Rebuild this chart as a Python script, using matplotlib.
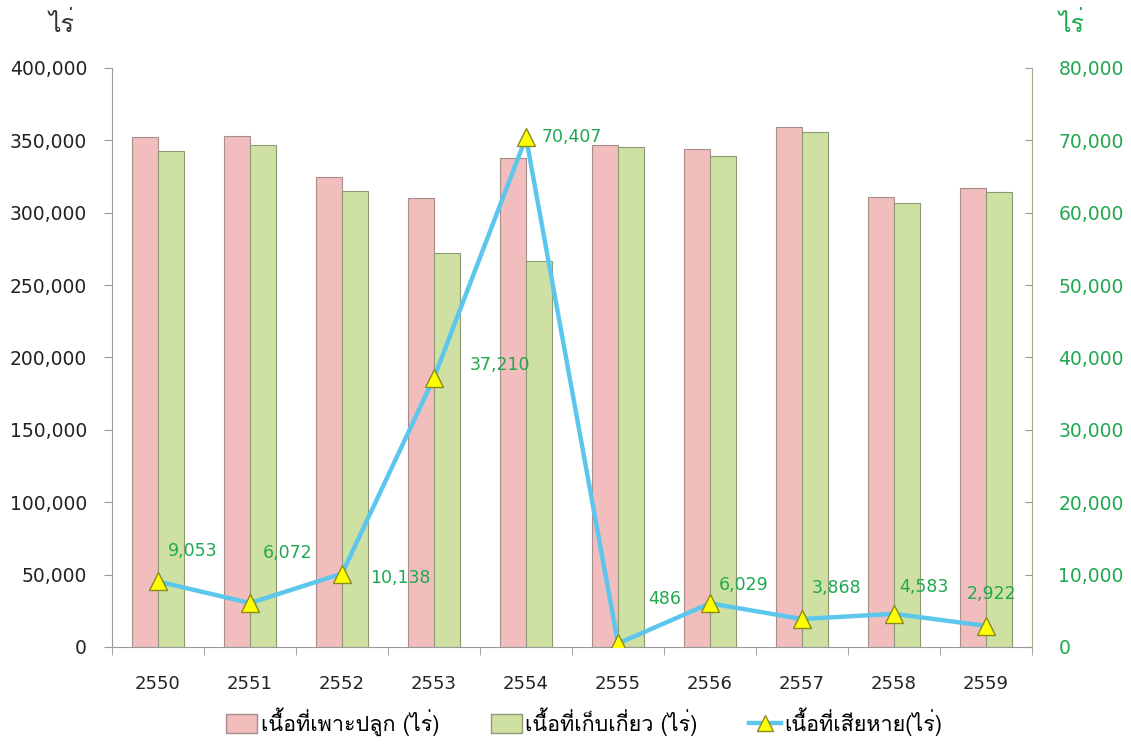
import matplotlib
matplotlib.use("Agg")
import matplotlib.pyplot as plt
from matplotlib import font_manager
from matplotlib.lines import Line2D
from matplotlib.patches import Patch
from matplotlib.ticker import FuncFormatter, MultipleLocator
import numpy as np

# ---- data ----
years = ["2550", "2551", "2552", "2553", "2554", "2555", "2556", "2557", "2558", "2559"]
planted = [352000, 353000, 325000, 310000, 337500, 346500, 344000, 359000, 311000, 317000]
harvested = [343000, 347000, 315000, 272500, 267000, 345500, 339000, 355500, 307000, 314500]
damaged = [9053, 6072, 10138, 37210, 70407, 486, 6029, 3868, 4583, 2922]
series_names = ["เนื้อที่เพาะปลูก (ไร่)", "เนื้อที่เก็บเกี่ยว (ไร่)", "เนื้อที่เสียหาย(ไร่)"]
unit_label = "ไร่"

# ---- find a font with Thai glyphs ----
thai_family = None
try:
    from fontTools.ttLib import TTFont
    for fe in font_manager.fontManager.ttflist:
        try:
            tt = TTFont(fe.fname, fontNumber=0, lazy=True)
            cmap = tt.getBestCmap()
            if cmap and 0x0E44 in cmap and 0x0E23 in cmap:
                thai_family = fe.name
                break
        except Exception:
            continue
except Exception:
    pass
thai_fam = [thai_family, "DejaVu Sans"] if thai_family else ["DejaVu Sans"]
plt.rcParams["font.family"] = ["DejaVu Sans"] + ([thai_family] if thai_family else [])

pink = "#F2BDBD"
pink_edge = "#A88C8C"
green = "#CFE0A3"
green_edge = "#8E9A74"
line_col = "#5CC6EC"
txt_green = "#1FA84F"

fig = plt.figure(figsize=(11.31, 7.44), dpi=100)
ax = fig.add_axes([112 / 1131, 1 - 647 / 744, (1032 - 112) / 1131, (647 - 68) / 744])
x = np.arange(len(years))
w = 0.28
ax.bar(x - w / 2, planted, width=w, color=pink, edgecolor=pink_edge, linewidth=0.8, zorder=2)
ax.bar(x + w / 2, harvested, width=w, color=green, edgecolor=green_edge, linewidth=0.8, zorder=2)
ax.set_xlim(-0.5, len(years) - 0.5)
ax.set_ylim(0, 400000)
ax.yaxis.set_major_locator(MultipleLocator(50000))
ax.yaxis.set_major_formatter(FuncFormatter(lambda v, p: f"{int(v):,}"))
ax.set_xticks(x)
ax.set_xticklabels(years)
ax.set_xticks(np.arange(-0.5, len(years), 1), minor=True)
ax.tick_params(axis="x", which="major", length=0, pad=20, labelsize=13, colors="#222222")
ax.tick_params(axis="x", which="minor", length=6, color="#999999", direction="out")
ax.tick_params(axis="y", length=6, color="#999999", labelsize=13.5, labelcolor="#222222", pad=12)
for s in ["top", "right"]:
    ax.spines[s].set_visible(False)
for s in ["left", "bottom"]:
    ax.spines[s].set_color("#999999")

ax2 = ax.twinx()
ax2.set_ylim(0, 80000)
ax2.yaxis.set_major_locator(MultipleLocator(10000))
ax2.yaxis.set_major_formatter(FuncFormatter(lambda v, p: f"{int(v):,}"))
ax2.tick_params(axis="y", length=5, direction="in", color="#999999", labelsize=13.5,
                labelcolor=txt_green, pad=19)
for s in ["top", "left", "bottom"]:
    ax2.spines[s].set_visible(False)
ax2.spines["right"].set_color("#A8A890")
ax2.plot(x, damaged, color=line_col, linewidth=3.2, marker="^", markersize=13,
         markerfacecolor="#FFFF00", markeredgecolor="#8A8A20", markeredgewidth=1.0, zorder=5)

offsets = [(7, 22), (9, 36), (20, -3), (26, 9), (11, 0), (22, 32), (6.5, 13), (7, 22), (4, 19), (-14, 23)]
for xi, v, (dx, dy) in zip(x, damaged, offsets):
    ax2.annotate(f"{v:,}", (xi, v), xytext=(dx, dy), textcoords="offset points",
                 color=txt_green, fontsize=12.5, ha="left", va="center")

fig.text(62 / 1131, 1 - 25 / 744, unit_label, family=thai_fam, fontsize=18, color="#333333",
         ha="center", va="center")
fig.text(1072 / 1131, 1 - 25 / 744, unit_label, family=thai_fam, fontsize=18, color=txt_green,
         ha="center", va="center")

handles = [Patch(facecolor=pink, edgecolor=pink_edge), Patch(facecolor=green, edgecolor=green_edge),
           Line2D([0], [0], color=line_col, linewidth=3.2, marker="^", markersize=11,
                  markerfacecolor="#FFFF00", markeredgecolor="#8A8A20")]
leg = fig.legend(handles, series_names, loc="center", bbox_to_anchor=(584 / 1131, 1 - 722 / 744),
                 ncol=3, frameon=False, handlelength=1.45, handleheight=1.0, handletextpad=0.15,
                 columnspacing=2.4, prop={"family": thai_fam, "size": 15.5})

fig.savefig("out.png", dpi=100)
